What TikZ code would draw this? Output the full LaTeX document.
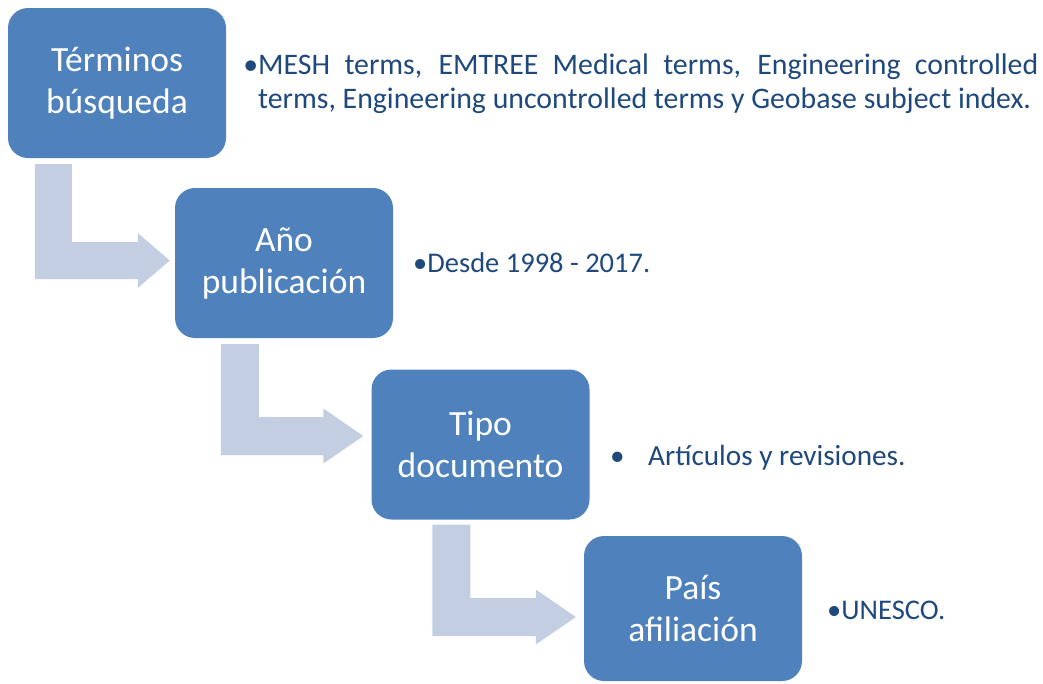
\documentclass[tikz,border=0pt]{standalone}
\usepackage{fontspec}
\setmainfont{Carlito}
\usetikzlibrary{calc}
\definecolor{boxblue}{HTML}{4F81BD}
\definecolor{arrowblue}{HTML}{C4CEE3}
\definecolor{txtblue}{HTML}{1F497D}
\newcommand\bentarr[4]{% start (top-left of bar), tip, bar width, head length
  \fill[bentarrow] let \p1=(#1), \p2=(#2) in
    (\x1,\y1) -- (\x1+#3,\y1) -- (\x1+#3,\y2+0.5*#3) -- (\x2-#4,\y2+0.5*#3)
    -- (\x2-#4,\y2+27.5pt) -- (\x2,\y2) -- (\x2-#4,\y2-27.5pt)
    -- (\x2-#4,\y2-0.5*#3) -- (\x1,\y2-0.5*#3) -- cycle;}
\begin{document}
\begin{tikzpicture}[x=1pt,y=-1pt,
  stepbox/.style={fill=boxblue, rounded corners=20pt, minimum width=218pt,
    minimum height=150pt, inner sep=0pt, text=white,
    font=\fontsize{35.5}{42}\selectfont, align=center},
  bullettext/.style={text=txtblue, font=\fontsize{28.5}{34}\selectfont,
    inner sep=0pt, anchor=base west},
  bentarrow/.style={fill=arrowblue}]
\useasboundingbox (0,0) rectangle (1043,683);
\node[stepbox] (b1) at (117,83) {Términos\\búsqueda};
\node[stepbox] (b2) at (284,263) {Año\\publicación};
\node[stepbox] (b3) at (480.5,444.5) {Tipo\\documento};
\node[stepbox, minimum height=145pt] (b4) at (693,608.5) {País\\afiliación};
\coordinate (a1s) at ($(b1.south west)+(27,6)$);
\coordinate (a1t) at ($(b2.west)+(-5,-2.5)$);
\coordinate (a2s) at ($(b2.south west)+(46,6)$);
\coordinate (a2t) at ($(b3.west)+(-8,-8.5)$);
\coordinate (a3s) at ($(b3.south west)+(61,5)$);
\coordinate (a3t) at ($(b4.west)+(-8,8.5)$);
\bentarr{a1s}{a1t}{37pt}{32pt}
\bentarr{a2s}{a2t}{38pt}{40pt}
\bentarr{a3s}{a3t}{38pt}{40pt}
\node[bullettext, text width=780pt, align=justify, font=\fontsize{29.8}{34}\selectfont] (t1) at (258,74)
  {\llap{•}MESH terms, EMTREE Medical terms, Engineering controlled\linebreak terms, Engineering uncontrolled terms y Geobase subject index.};
\node[bullettext] (t2) at (413,272) {•Desde 1998 - 2017.};
\node[bullettext, font=\fontsize{29.2}{34}\selectfont] (t3) at (610,465) {\makebox[38pt][l]{•}Artículos y revisiones.};
\node[bullettext] (t4) at (827,619) {•UNESCO.};
\end{tikzpicture}
\end{document}
